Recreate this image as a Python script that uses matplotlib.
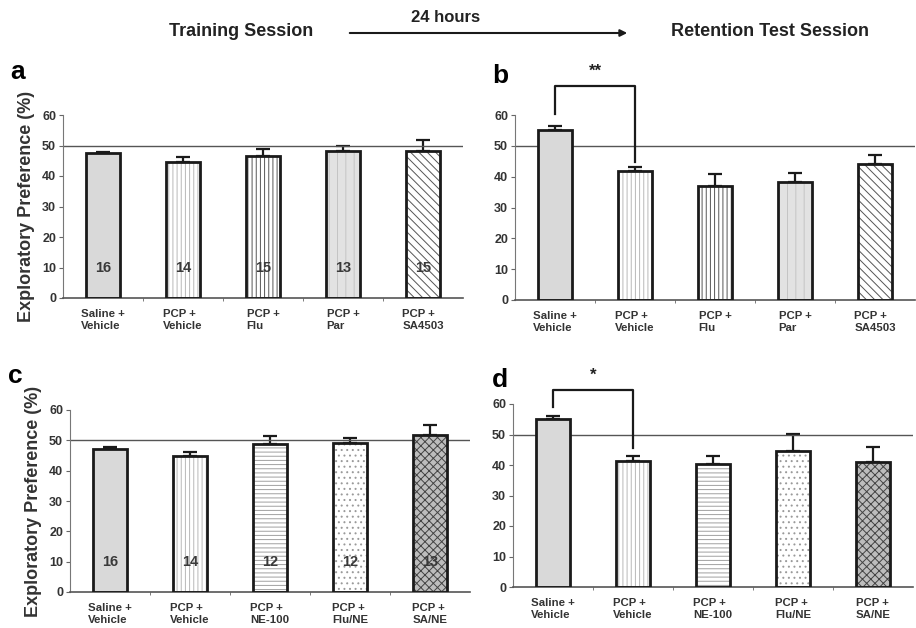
import matplotlib
matplotlib.use("Agg")
import matplotlib.pyplot as plt
import numpy as np

plt.rcParams['font.family'] = ['Liberation Sans', 'DejaVu Sans']
plt.rcParams['hatch.linewidth'] = 0.7

# data
labels_top = ['Saline +\nVehicle', 'PCP +\nVehicle', 'PCP +\nFlu', 'PCP +\nPar', 'PCP +\nSA4503']
labels_bot = ['Saline +\nVehicle', 'PCP +\nVehicle', 'PCP +\nNE-100', 'PCP +\nFlu/NE', 'PCP +\nSA/NE']

a_mean = [47.4, 44.5, 46.6, 48.2, 48.2]
a_err = [0.5, 1.6, 2.3, 1.6, 3.6]
a_n = [16, 14, 15, 13, 15]

b_mean = [55.2, 41.9, 37.1, 38.4, 44.2]
b_err = [1.2, 1.1, 3.7, 2.8, 2.8]

c_mean = [47.3, 44.8, 48.7, 49.2, 51.7]
c_err = [0.4, 1.2, 2.7, 1.6, 3.3]
c_n = [16, 14, 12, 12, 13]

d_mean = [55.1, 41.4, 40.3, 44.7, 41.1]
d_err = [1.1, 1.7, 2.7, 5.4, 4.9]

# bar styles (face, hatch, hatch colour)
style_top = [('#d9d9d9', '', '#d9d9d9'),
             ('white', '||||', '#b8b8b8'),
             ('white', '||||', '#555555'),
             ('#e2e2e2', '||', '#c4c4c4'),
             ('white', '\\\\\\\\', '#555555')]
style_bot = [('#d9d9d9', '', '#d9d9d9'),
             ('white', '||||', '#b8b8b8'),
             ('white', '----', '#a0a0a0'),
             ('white', '...', '#9a9a9a'),
             ('#bdbdbd', 'xxxx', '#444444')]

W, H = 916, 628
fig = plt.figure(figsize=(W / 100, H / 100), dpi=100)


def box(x0, y0, x1, y1):
    # pixel box -> figure fraction rect
    return [x0 / W, 1 - y1 / H, (x1 - x0) / W, (y1 - y0) / H]


def panel(rect, means, errs, labels, styles, counts=None, ylabel=False):
    ax = fig.add_axes(rect)
    x = np.arange(len(means))
    for i, (m, (fc, hatch, hc)) in enumerate(zip(means, styles)):
        ax.bar(x[i], m, width=0.42, color=fc, hatch=hatch, edgecolor=hc, linewidth=0, zorder=2)
    ax.bar(x, means, width=0.42, fill=False, edgecolor='#1a1a1a', linewidth=2, zorder=3)
    ax.errorbar(x, means, yerr=[np.zeros(len(errs)), errs], fmt='none', ecolor='#1a1a1a',
                elinewidth=1.6, capsize=5, capthick=1.6, zorder=1)
    ax.axhline(50, color='#555555', lw=1, zorder=1)
    if counts is not None:
        for i, n in enumerate(counts):
            ax.text(x[i], 10, str(n), ha='center', va='center', fontsize=10.5, fontweight='bold',
                    color='#3a3a3a', zorder=4)
    ax.set_xlim(-0.5, len(means) - 0.5)
    ax.set_ylim(0, 60)
    ax.set_yticks([0, 10, 20, 30, 40, 50, 60])
    ax.set_xticks(x)
    ax.set_xticklabels(labels, fontsize=8.2, fontweight='bold', color='#333333', multialignment='left')
    ax.set_xticks(x[:-1] + 0.5, minor=True)
    ax.tick_params(axis='x', which='major', length=0, pad=8)
    ax.tick_params(axis='x', which='minor', length=2, color='#666666')
    ax.tick_params(axis='y', length=3, labelsize=9, color='#666666', pad=2)
    for t in ax.get_yticklabels():
        t.set_fontweight('bold')
        t.set_color('#333333')
    for s in ['top', 'right']:
        ax.spines[s].set_visible(False)
    ax.spines['left'].set_color('#777777')
    ax.spines['bottom'].set_color('#555555')
    ax.spines['bottom'].set_linewidth(1.2)
    if ylabel:
        ax.set_ylabel('Exploratory Preference (%)', fontsize=13, fontweight='bold', color='#333333', labelpad=5)
    return ax


def bracket(ax, y_left, y_top, y_right, star):
    ax.plot([0, 0, 1, 1], [y_left, y_top, y_top, y_right], color='#1a1a1a', lw=1.6, clip_on=False, zorder=5)
    ax.text(0.5, y_top + 2.5, star, ha='center', va='bottom', fontsize=12, fontweight='bold', color='#222222')


ax_a = panel(box(63, 115, 463, 298), a_mean, a_err, labels_top, style_top, a_n, ylabel=True)
ax_b = panel(box(515, 115, 915, 300), b_mean, b_err, labels_top, style_top)
ax_c = panel(box(70, 410, 470, 592), c_mean, c_err, labels_bot, style_bot, c_n, ylabel=True)
ax_d = panel(box(513, 404, 913, 587), d_mean, d_err, labels_bot, style_bot)

bracket(ax_b, 60.4, 69.3, 44.9, '**')
bracket(ax_d, 59.1, 64.6, 45.5, '*')

# panel letters
for letter, px, py in [('a', 18, 72), ('b', 500, 76), ('c', 15, 376), ('d', 500, 380)]:
    fig.text(px / W, 1 - py / H, letter, fontsize=19, fontweight='bold', ha='center', va='center')

# header
fig.text(241 / W, 1 - 31 / H, 'Training Session', fontsize=13, fontweight='bold', ha='center', va='center', color='#222222')
fig.text(446 / W, 1 - 18 / H, '24 hours', fontsize=12, fontweight='bold', ha='center', va='center', color='#222222')
fig.text(770 / W, 1 - 31 / H, 'Retention Test Session', fontsize=13, fontweight='bold', ha='center', va='center', color='#222222')
fig.add_artist(matplotlib.patches.FancyArrowPatch((347 / W, 1 - 33 / H), (630 / W, 1 - 33 / H),
                                                  transform=fig.transFigure, arrowstyle='-|>',
                                                  mutation_scale=10, lw=1.5, color='#1a1a1a'))

fig.savefig('out.png', dpi=100)
